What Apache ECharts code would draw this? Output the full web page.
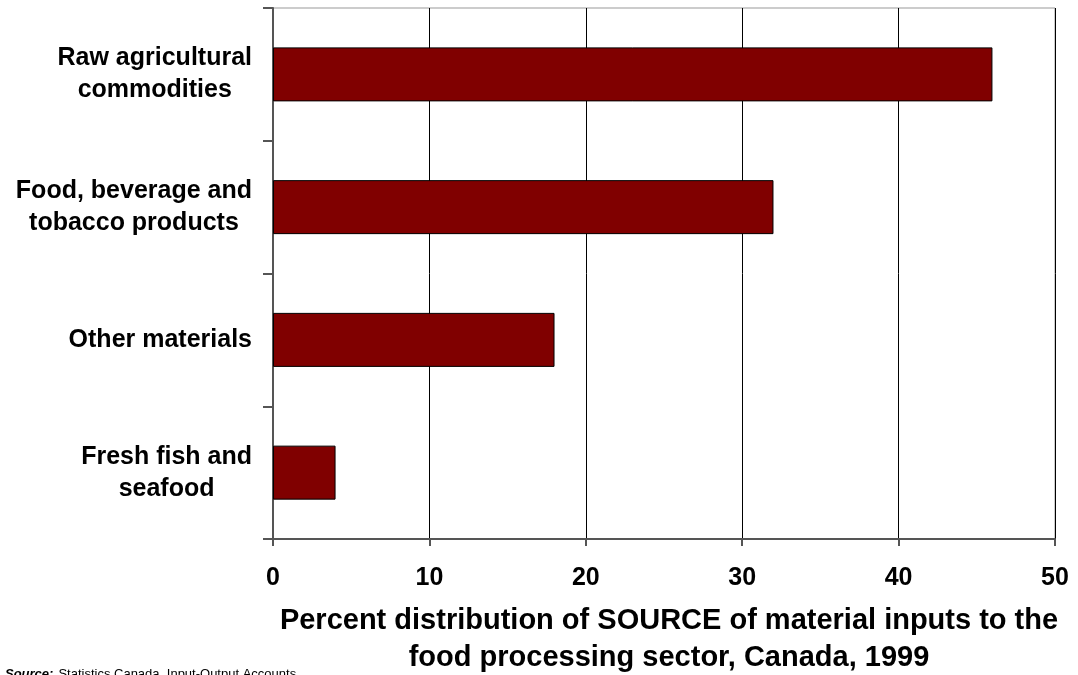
<!DOCTYPE html>
<html>
<head>
<meta charset="utf-8">
<script src="https://cdn.jsdelivr.net/npm/echarts@6/dist/echarts.min.js"></script>
<style>
  html, body { margin: 0; padding: 0; background: #fff; }
  #chart { width: 1078px; height: 675px; }
</style>
</head>
<body>
<div id="chart"></div>
<script>
// categories, top to bottom
var categories = [
  ['Raw agricultural', 'commodities'],
  ['Food, beverage and', 'tobacco products'],
  ['Other materials'],
  ['Fresh fish and', 'seafood']
];
// percent of material inputs
var values = [46, 32, 18, 4];
var xTicks = [0, 10, 20, 30, 40, 50];

var font = 'Liberation Sans, Arial, sans-serif';

var chart = echarts.init(document.getElementById('chart'));

var option = {
  animation: false,
  backgroundColor: '#fff',
  title: [
    {
      text: 'Percent distribution of SOURCE of material inputs to the\nfood processing sector, Canada, 1999',
      left: 664,
      top: 597,
      textAlign: 'center',
      textStyle: { fontFamily: font, fontSize: 29, fontWeight: 'bold', color: '#000', lineHeight: 37 }
    },
    {
      text: '{b|Source:} {n|Statistics Canada, Input-Output Accounts}',
      left: 0,
      top: 660,
      textStyle: {
        rich: {
          b: { fontFamily: font, fontSize: 13, fontWeight: 'bold', fontStyle: 'italic', color: '#000' },
          n: { fontFamily: font, fontSize: 13, fontWeight: 'normal', color: '#000' }
        }
      }
    }
  ],
  grid: { left: 273, right: 23, top: 8, bottom: 136, show: true, borderColor: '#999', borderWidth: 1 },
  xAxis: {
    type: 'value',
    min: 0,
    max: 50,
    interval: 10,
    axisLine: { show: true, lineStyle: { color: '#555', width: 2 } },
    axisTick: { show: true, length: 7, lineStyle: { color: '#555', width: 2 } },
    splitLine: { show: true, lineStyle: { color: '#000', width: 1 } },
    axisLabel: {
      margin: 27,
      fontFamily: font, fontSize: 25, fontWeight: 'bold', color: '#000',
      formatter: function (v) { return xTicks.indexOf(v) >= 0 ? String(v) : ''; }
    }
  },
  yAxis: {
    type: 'category',
    inverse: true,
    data: categories.map(function (c) { return c.join('\n'); }),
    axisLine: { show: true, lineStyle: { color: '#555', width: 2 } },
    axisTick: { show: true, length: 10, lineStyle: { color: '#555', width: 2 } },
    splitLine: { show: false },
    axisLabel: {
      margin: 21,
      align: 'right',
      formatter: function (v) {
        return v.split('\n').map(function (s) { return '{c|' + s + '}'; }).join('\n');
      },
      rich: {
        c: { align: 'center', fontFamily: font, fontSize: 25, fontWeight: 'bold', color: '#000', lineHeight: 32 }
      }
    }
  },
  series: [{
    type: 'bar',
    data: values,
    barWidth: 54,
    itemStyle: { color: '#800000', borderColor: '#000', borderWidth: 1 }
  }]
};

chart.setOption(option);
</script>
</body>
</html>
